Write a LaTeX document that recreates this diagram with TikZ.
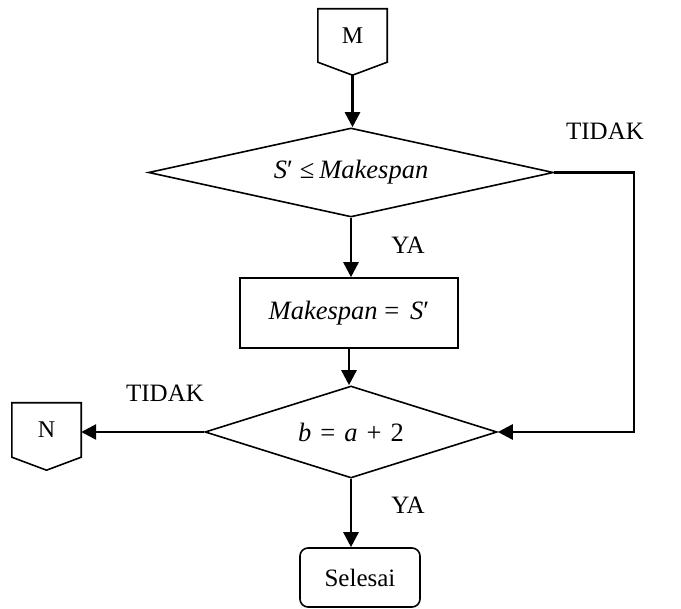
\documentclass[tikz,border=0pt]{standalone}
\usepackage{fontspec}
\setmainfont{Liberation Serif}
\usetikzlibrary{shapes.geometric,arrows.meta,calc}

\begin{document}
\begin{tikzpicture}[x=1pt,y=-1pt,
  outline/.style={line width=1.6pt},
  flow/.style={line width=2.6pt,-{Triangle[length=15pt,width=15pt]}},
  decision/.style={diamond,draw,outline,inner sep=0pt},
  process/.style={rectangle,draw,outline,inner sep=0pt},
  connector/.style={rectangle,inner sep=0pt,minimum width=69pt,font=\fontsize{24}{28}\selectfont},
  txt/.style={font=\fontsize{25}{30}\selectfont,inner sep=0pt},
  formula/.style={font=\fontsize{26.5}{31}\selectfont,inner sep=0pt}
]
\useasboundingbox (0,0) rectangle (681,609);

% off-page connector M
\node[connector,minimum height=53pt] (M) at (352.5,35.5) {M};
\coordinate (Mtip) at ($(M.south)+(0,13)$);
\draw[outline,line join=miter] (M.north west) -- (M.north east) -- (M.south east)
  -- (Mtip) -- (M.south west) -- cycle;

% first decision
\node[decision,aspect=4.55,minimum width=405pt,minimum height=89pt,formula] (d1) at (351,172.5)
  {\textit{S}′\hspace{7pt}≤\hspace{5pt}\textit{Makespan}};

% assignment
\node[process,minimum width=218pt,minimum height=70pt,formula] (box) at (349,313)
  {\textit{Makespan} = \,\textit{S}′};

% second decision
\node[decision,aspect=3.17,minimum width=292pt,minimum height=92pt,formula] (d2) at (351,432)
  {\textit{b}\hspace{9pt}=\hspace{9pt}\textit{a}\hspace{9pt}+\hspace{9pt}2};

% off-page connector N
\node[connector,minimum height=54pt] (N) at (46.5,430) {N};
\coordinate (Ntip) at ($(N.south)+(0,13)$);
\draw[outline,line join=miter] (N.north west) -- (N.north east) -- (N.south east)
  -- (Ntip) -- (N.south west) -- cycle;

% terminator
\node[process,rounded corners=8pt,minimum width=120pt,minimum height=59pt,txt] (sel) at (360,577.5) {Selesai};

% connectors
\coordinate (turn) at (634,0);
\draw[flow] (Mtip) -- (Mtip |- d1.north);
\draw[flow] (d1.south) -- (d1.south |- box.north);
\draw[flow] (box.south) -- (box.south |- d2.north);
\draw[flow] (d2.south) -- (d2.south |- sel.north);
\draw[flow] (d2.west) -- (d2.west -| N.east);
\draw[flow,line join=miter] (d1.east) -- (d1.east -| turn) |- (d2.east);

% branch labels
\node[txt] (t1) at (605,131) {TIDAK};
\node[txt] (y1) at (408,245) {YA};
\node[txt] (t2) at (165,393) {TIDAK};
\node[txt] (y2) at (408,505) {YA};
\end{tikzpicture}
\end{document}
